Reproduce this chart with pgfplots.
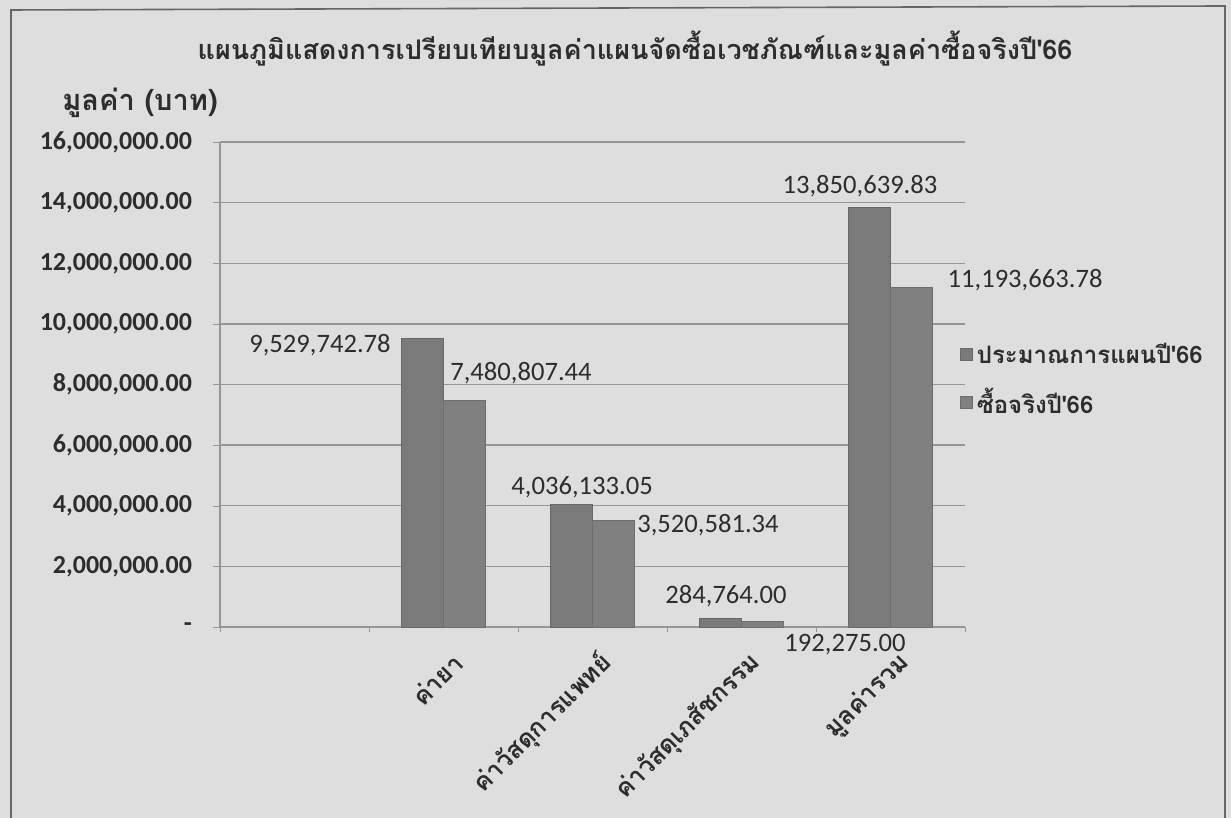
\documentclass[border=0pt]{standalone}
\usepackage{fontspec}
\setmainfont{Carlito}
\newfontfamily\thaifont[Script=Thai]{Loma}
\usepackage{pgfplots}
\pgfplotsset{compat=1.18}
\definecolor{bg}{RGB}{222,222,222}
\definecolor{barA}{RGB}{122,122,122}
\definecolor{barB}{RGB}{128,128,128}
\definecolor{gridc}{RGB}{150,150,150}
\definecolor{txt}{RGB}{45,45,45}

\begin{document}
\begin{tikzpicture}[x=0.5pt,y=0.5pt]
\fill[bg] (0,0) rectangle (1231,818);
\path[use as bounding box] (0,0) rectangle (1231,818);
\draw[gray!80!black, line width=0.8pt] (11,0) -- (11,808) -- (1225,812) -- (1225,0);

% title and y label
\node[txt, font=\thaifont\bfseries\fontsize{13.5}{16}\selectfont] at (635,769)
  {แผนภูมิแสดงการเปรียบเทียบมูลค่าแผนจัดซื้อเวชภัณฑ์และมูลค่าซื้อจริงปี'66};
\node[txt, font=\thaifont\bfseries\fontsize{14.5}{16}\selectfont] at (140,715)
  {มูลค่า (บาท)};

\begin{axis}[
  at={(110pt,95.5pt)}, anchor=south west,
  scale only axis, width=372.5pt, height=242.5pt,
  xmin=-0.5, xmax=4.5, ymin=0, ymax=16000000,
  axis lines=left, axis line style={-, draw=gridc, line width=0.7pt},
  ybar=0pt, bar width=21pt,
  clip=false,
  tick align=outside,
  scaled y ticks=false,
  xtick={1,2,3,4},
  xticklabels={ค่ายา,ค่าวัสดุการแพทย์,ค่าวัสดุเภสัชกรรม,มูลค่ารวม},
  xticklabel style={txt, font=\thaifont\bfseries\fontsize{12.5}{15}\selectfont,
                    rotate=45, anchor=east, xshift=0pt, yshift=-14pt},
  major x tick style={draw=none},
  minor xtick={-0.5,0.5,1.5,2.5,3.5,4.5},
  minor tick length=2.5pt,
  minor x tick style={draw=gridc},
  ytick={0,2000000,4000000,6000000,8000000,10000000,12000000,14000000,16000000},
  yticklabels={-,{2,000,000.00},{4,000,000.00},{6,000,000.00},{8,000,000.00},
               {10,000,000.00},{12,000,000.00},{14,000,000.00},{16,000,000.00}},
  yticklabel style={txt, font=\bfseries\fontsize{13}{15}\selectfont, xshift=-7pt},
  major tick length=3.5pt,
  major y tick style={draw=gridc},
  ymajorgrids, grid style={gridc, line width=0.7pt},
  legend style={at={(0.985,0.51)}, anchor=west, draw=none, fill=none,
                font=\thaifont\bfseries\fontsize{12}{14}\selectfont, text=txt,
                row sep=7pt},
  legend cell align=left,
  legend image code/.code={\fill[#1] (0pt,-3pt) rectangle (6pt,3pt);},
]
\addplot[fill=barA, draw=barA!85!black, line width=0.3pt]
  coordinates {(1,9529742.78) (2,4036133.05) (3,284764.00) (4,13850639.83)};
\addplot[fill=barB, draw=barB!85!black, line width=0.3pt]
  coordinates {(1,7480807.44) (2,3520581.34) (3,192275.00) (4,11193663.78)};
\addlegendentry{ประมาณการแผนปี'66}
\addlegendentry{ซื้อจริงปี'66}

\begin{scope}[every node/.style={txt, font=\fontsize{13.3}{15}\selectfont}]
\node at (axis cs:0.171,9300000) {9,529,742.78};
\node at (axis cs:1.52,8380000) {7,480,807.44};
\node at (axis cs:1.93,4620000) {4,036,133.05};
\node at (axis cs:2.775,3360000) {3,520,581.34};
\node at (axis cs:2.896,1020000) {284,764.00};
\node at (axis cs:3.695,-594000) {192,275.00};
\node at (axis cs:3.795,14550000) {13,850,639.83};
\node at (axis cs:4.903,11450000) {11,193,663.78};
\end{scope}
\end{axis}
\end{tikzpicture}
\end{document}
